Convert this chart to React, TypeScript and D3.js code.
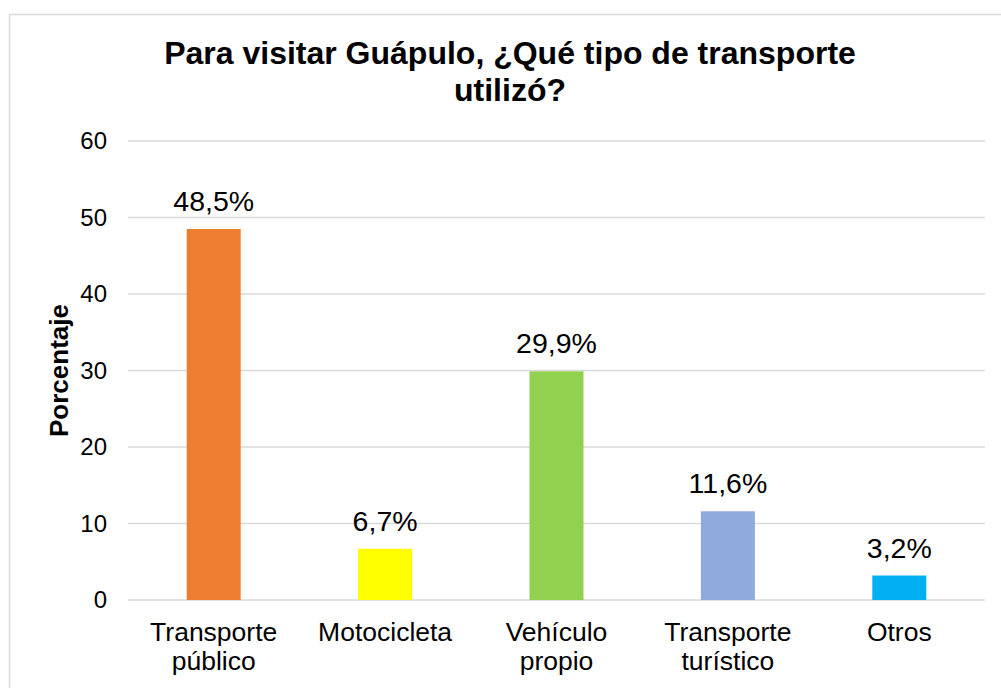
import React from "react";
import * as d3 from "d3";

const categories: string[][] = [
  ["Transporte", "público"],
  ["Motocicleta"],
  ["Vehículo", "propio"],
  ["Transporte", "turístico"],
  ["Otros"],
];
const values: number[] = [48.5, 6.7, 29.9, 11.6, 3.2];
const valueLabels: string[] = ["48,5%", "6,7%", "29,9%", "11,6%", "3,2%"];
const colors: string[] = ["#ED7D31", "#FFFF00", "#92D050", "#8FAADC", "#00B0F0"];
const yTicks: number[] = [0, 10, 20, 30, 40, 50, 60];
const titleLines: string[] = ["Para visitar Guápulo, ¿Qué tipo de transporte", "utilizó?"];
const yAxisTitle = "Porcentaje";

const W = 1001;
const H = 688;
const FONT = "'Liberation Sans', Arial, sans-serif";

export default function App() {
  const plotLeft = 128;
  const plotRight = 985;
  const plotTop = 141;
  const plotBottom = 600;

  const x = d3
    .scaleBand<number>()
    .domain(d3.range(values.length))
    .range([plotLeft, plotRight])
    .paddingInner(0.685)
    .paddingOuter(0.3425);
  const y = d3.scaleLinear().domain([0, 60]).range([plotBottom, plotTop]);

  return (
    <svg
      width={W}
      height={H}
      style={{ position: "absolute", left: 0, top: 0, background: "#fff" }}
      fontFamily={FONT}
    >
      <rect x={9.5} y={14.5} width={1010} height={700} fill="#fff" stroke="#d9d9d9" strokeWidth={1.5} />
      {titleLines.map((t, i) => (
        <text
          key={i}
          x={510}
          y={64 + i * 37}
          textAnchor="middle"
          fontSize={32}
          fontWeight="bold"
          fill="#000"
        >
          {t}
        </text>
      ))}
      {yTicks.map((t) => (
        <g key={t}>
          <line x1={plotLeft} x2={plotRight} y1={y(t)} y2={y(t)} stroke="#d9d9d9" strokeWidth={1.5} />
          <text x={107} y={y(t) + 8} textAnchor="end" fontSize={24} fill="#000">
            {t}
          </text>
        </g>
      ))}
      <text
        transform={`translate(68, ${(plotTop + plotBottom) / 2}) rotate(-90)`}
        textAnchor="middle"
        fontSize={26}
        fontWeight="bold"
        fill="#000"
      >
        {yAxisTitle}
      </text>
      {values.map((v, i) => (
        <g key={i}>
          <rect x={x(i)} y={y(v)} width={x.bandwidth()} height={y(0) - y(v)} fill={colors[i]} />
          <text
            x={(x(i) as number) + x.bandwidth() / 2}
            y={y(v) - 18}
            textAnchor="middle"
            fontSize={28.5}
            fill="#000"
          >
            {valueLabels[i]}
          </text>
          {categories[i].map((line, j) => (
            <text
              key={j}
              x={(x(i) as number) + x.bandwidth() / 2}
              y={641 + j * 29}
              textAnchor="middle"
              fontSize={26.5}
              fill="#000"
            >
              {line}
            </text>
          ))}
        </g>
      ))}
    </svg>
  );
}
